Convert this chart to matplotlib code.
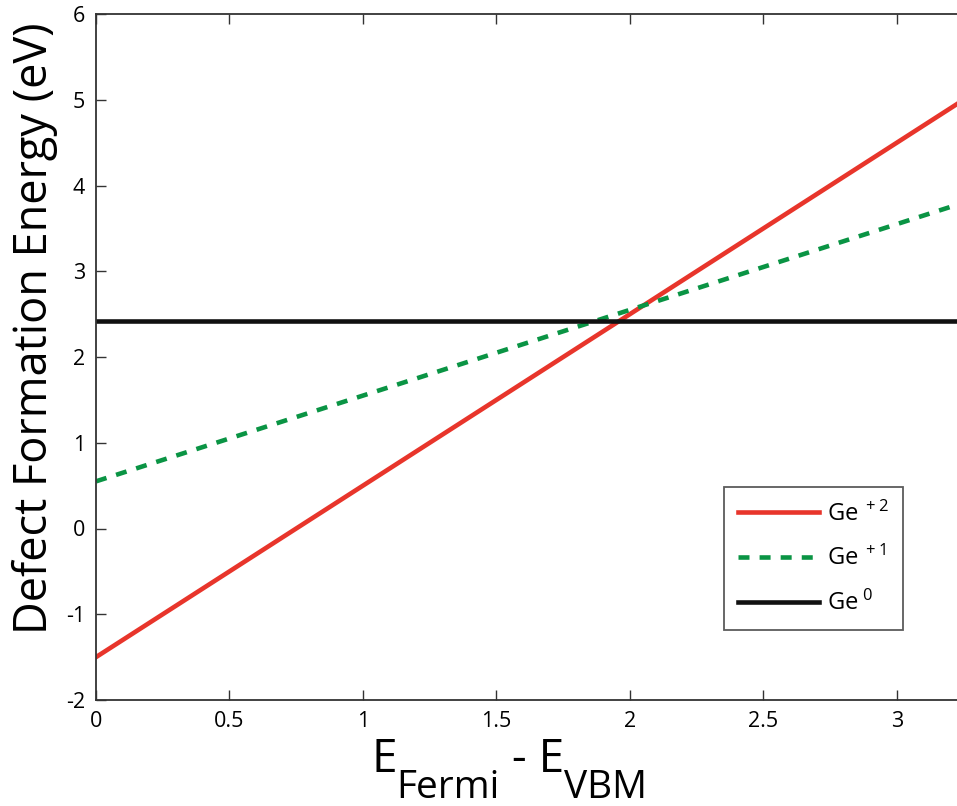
import matplotlib.pyplot as plt
import numpy as np

# Fermi level range (eV) and formation energies at the two ends
e_fermi = [0.0, 3.225]
ge_p2 = [-1.5, 4.95]
ge_p1 = [0.55, 3.775]
ge_0 = [2.42, 2.42]

labels = ['Ge$^{\\ +2}$', 'Ge$^{\\ +1}$', 'Ge$^{\\ 0}$']
xticks = [0, 0.5, 1, 1.5, 2, 2.5, 3]
xticklabels = ['0', '0.5', '1', '1.5', '2', '2.5', '3']


def main():
    plt.rcParams['font.family'] = ['Open Sans', 'DejaVu Sans']
    plt.rcParams['mathtext.fontset'] = 'custom'
    plt.rcParams['mathtext.rm'] = 'Open Sans'
    plt.rcParams['mathtext.it'] = 'Open Sans'

    W, H = 957, 806
    fig = plt.figure(figsize=(W / 100, H / 100), dpi=100)
    ax = fig.add_axes([96 / W, 1 - 700 / H, 1 - 96 / W, (700 - 14) / H])

    ax.plot(e_fermi, ge_p2, color='#e8352b', lw=3.3, label=labels[0])
    ax.plot(e_fermi, ge_p1, color='#0a9444', lw=3.3, ls=(0, (2.4, 2.2)), label=labels[1])
    ax.plot(e_fermi, ge_0, color='#111111', lw=3.3, label=labels[2])

    ax.set_xlim(0, 3.225)
    ax.set_ylim(-2, 6)
    ax.set_xticks(xticks)
    ax.set_xticklabels(xticklabels)
    ax.set_yticks(range(-2, 7))
    ax.set_yticklabels([str(v) for v in range(-2, 7)])
    ax.tick_params(direction='in', top=True, length=7, width=1, labelsize=15.5, pad=8, color='#333333')
    ax.spines['right'].set_visible(False)
    for s in ['left', 'top', 'bottom']:
        ax.spines[s].set_linewidth(1.3)
        ax.spines[s].set_color('#333333')

    ax.set_ylabel('Defect Formation Energy (eV)', fontsize=32.5)
    ax.yaxis.set_label_coords(-0.044, (700 - 328) / 686)

    # x label built from pieces so the subscripts stay large
    r = fig.canvas.get_renderer()
    pieces = [('E', 33, 0), ('Fermi', 28, -26), (' - E', 33, 0), ('VBM', 28, -26)]
    x = 371
    base = 772
    for txt, size, dy in pieces:
        t = fig.text(x / W, 1 - (base - dy) / H, txt, fontsize=size, va='baseline', ha='left')
        x += t.get_window_extent(r).width

    leg = ax.legend(loc='lower right', bbox_to_anchor=((903 - 96) / 861, (700 - 630) / 686),
                    borderaxespad=0, fontsize=17, handlelength=3.4, frameon=True, fancybox=False,
                    borderpad=0.6, labelspacing=0.82, handletextpad=0.35)
    leg.get_frame().set_edgecolor('#333333')
    leg.get_frame().set_linewidth(1.3)

    fig.savefig('out.png', dpi=100)


if __name__ == "__main__":
    main()
